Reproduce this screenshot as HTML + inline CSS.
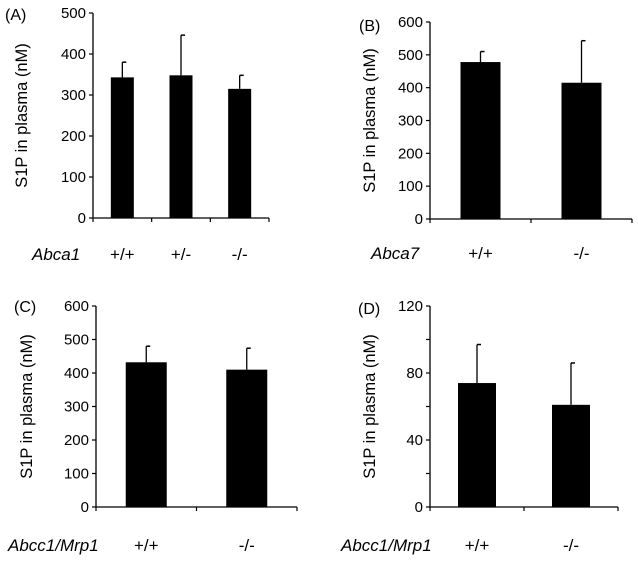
<!DOCTYPE html>
<html><head><meta charset="utf-8"><style>
html,body{margin:0;padding:0;background:#fff;}
svg text{font-family:"Liberation Sans",Arial,sans-serif;fill:#000;}
</style></head><body>
<svg id="fig" width="638" height="561" viewBox="0 0 638 561"></svg>
<script>
// Panel A data
const catsA = ["+/+", "+/-", "-/-"];
const valsA = [343, 348, 315];
const errsA = [37, 98, 33];
const ticksA = [0, 100, 200, 300, 400, 500];
// Panel B data
const catsB = ["+/+", "-/-"];
const valsB = [478, 415];
const errsB = [32, 128];
const ticksB = [0, 100, 200, 300, 400, 500, 600];
// Panel C data
const catsC = ["+/+", "-/-"];
const valsC = [432, 410];
const errsC = [48, 64];
const ticksC = [0, 100, 200, 300, 400, 500, 600];
// Panel D data
const catsD = ["+/+", "-/-"];
const valsD = [74, 61];
const errsD = [23, 25];
const ticksD = [0, 40, 80, 120];
const minorD = [20, 60, 100];

const NS = "http://www.w3.org/2000/svg";
const svg = document.getElementById("fig");
function mk(tag, attrs, parent, txt){
  const e = document.createElementNS(NS, tag);
  for (const k in attrs) e.setAttribute(k, attrs[k]);
  if (txt !== undefined) e.textContent = txt;
  (parent || svg).appendChild(e);
  return e;
}
function panel(cfg, cats, vals, errs, ticks, minor){
  const g = mk("g", {});
  
  
  const ymax = ticks[ticks.length-1];
  const y = v => cfg.y0 - (v / ymax) * (cfg.y0 - cfg.y1);
  const n = cats.length;
  const step = (cfg.x1 - cfg.x0) / n;
  const xc = i => cfg.x0 + step * (i + 0.5);
  const lbl = mk("text", {x: cfg.lx, y: cfg.ly, "font-size": 16}, g, "(" + cfg.id.toUpperCase() + ")");
  
  
  const yt = mk("text", {x: 0, y: 0, "font-size": 16.5, "text-anchor": "middle",
    transform: "translate(" + cfg.tx + "," + ((cfg.y0 + cfg.y1)/2) + ") rotate(-90)"}, g, "S1P in plasma (nM)");
  
  
  const ya = mk("line", {x1: cfg.x0, y1: cfg.y0, x2: cfg.x0, y2: cfg.y1, stroke: "#000", "stroke-width": 1.3}, g);
  
  
  const xa = mk("line", {x1: cfg.x0, y1: cfg.y0, x2: cfg.x1, y2: cfg.y0, stroke: "#000", "stroke-width": 1.3}, g);
  
  
  ticks.forEach(t => {
    mk("line", {x1: cfg.x0 - 4, y1: y(t), x2: cfg.x0, y2: y(t), stroke: "#000", "stroke-width": 1.2}, g);
    const tl = mk("text", {x: cfg.x0 - 7, y: y(t) + 5, "font-size": 15, "text-anchor": "end"}, g, String(t));
    
    
  });
  (minor || []).forEach(t => {
    mk("line", {x1: cfg.x0 - 4, y1: y(t), x2: cfg.x0, y2: y(t), stroke: "#000", "stroke-width": 1.2}, g);
  });
  for (let i = 0; i <= n; i++) {
    const tx = cfg.x0 + step * i;
    mk("line", {x1: tx, y1: cfg.y0, x2: tx, y2: cfg.y0 + 4, stroke: "#000", "stroke-width": 1.2}, g);
  }
  cats.forEach((c, i) => {
    const cx = xc(i);
    const bar = mk("rect", {x: cx - cfg.bw/2, y: y(vals[i]), width: cfg.bw, height: cfg.y0 - y(vals[i]), fill: "#000"}, g);
    
    
    const top = y(vals[i] + errs[i]);
    const eb = mk("line", {x1: cx, y1: y(vals[i]), x2: cx, y2: top, stroke: "#000", "stroke-width": 1.3}, g);
    
    
    mk("line", {x1: cx, y1: top, x2: cx + 4, y2: top, stroke: "#000", "stroke-width": 1.5}, g);
    const cl = mk("text", {x: cx, y: cfg.cy, "font-size": 17, "text-anchor": "middle"}, g, c);
    
    
  });
  const gl = mk("text", {x: cfg.gx, y: cfg.cy, "font-size": 17, "font-style": "italic"}, g, cfg.gene);
  
  
}
panel({id:"a", x0:93, x1:269, y0:218, y1:13, bw:23, lx:5, ly:20, tx:27, cy:260, gx:32, gene:"Abca1"}, catsA, valsA, errsA, ticksA);
panel({id:"b", x0:430, x1:632, y0:219, y1:22, bw:40, lx:359, ly:31, tx:375, cy:259, gx:371, gene:"Abca7"}, catsB, valsB, errsB, ticksB);
panel({id:"c", x0:96, x1:297, y0:507, y1:306, bw:41, lx:14, ly:312, tx:32, cy:551, gx:8, gene:"Abcc1/Mrp1"}, catsC, valsC, errsC, ticksC);
panel({id:"d", x0:430, x1:618, y0:507, y1:306, bw:38, lx:358, ly:314, tx:375, cy:551, gx:341, gene:"Abcc1/Mrp1"}, catsD, valsD, errsD, ticksD, minorD);
</script>
</body></html>
